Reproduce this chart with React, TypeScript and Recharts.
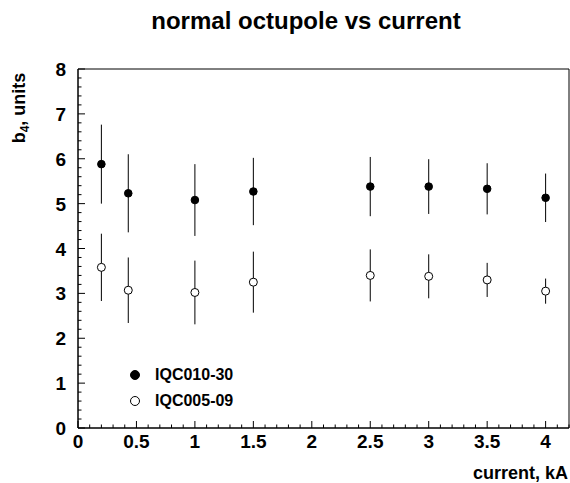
import React from 'react';
import {
  ScatterChart,
  Scatter,
  XAxis,
  YAxis,
  ErrorBar,
  ReferenceArea,
  Legend,
} from 'recharts';

const currentKA = [0.2, 0.43, 1.0, 1.5, 2.5, 3.0, 3.5, 4.0];
const iqc010Values = [5.88, 5.23, 5.08, 5.27, 5.38, 5.38, 5.33, 5.13];
const iqc010Errors = [0.88, 0.87, 0.8, 0.75, 0.66, 0.61, 0.57, 0.54];
const iqc005Values = [3.58, 3.07, 3.02, 3.25, 3.4, 3.38, 3.3, 3.05];
const iqc005Errors = [0.75, 0.73, 0.71, 0.68, 0.58, 0.49, 0.38, 0.28];

const xMajorTicks = [0, 0.5, 1, 1.5, 2, 2.5, 3, 3.5, 4];
const yMajorTicks = [0, 1, 2, 3, 4, 5, 6, 7, 8];
const xDomain = [0, 4.2];
const yDomain = [0, 8];

const xAllTicks: number[] = [];
for (let i = 0; i <= 42; i++) xAllTicks.push(Math.round(i) / 10);
const yAllTicks: number[] = [];
for (let i = 0; i <= 40; i++) yAllTicks.push(Math.round(i * 2) / 10);

const seriesA = currentKA.map((x, i) => ({ x, y: iqc010Values[i], err: iqc010Errors[i] }));
const seriesB = currentKA.map((x, i) => ({ x, y: iqc005Values[i], err: iqc005Errors[i] }));

const FONT = '"Liberation Sans", Arial, Helvetica, sans-serif';

const isMajor = (v: number, list: number[]) => list.some((m) => Math.abs(m - v) < 1e-6);

const XTick = (props: any) => {
  const { x, y, payload } = props;
  const v = payload.value;
  const major = isMajor(v, xMajorTicks);
  return (
    <g>
      <line x1={x} x2={x} y1={y} y2={y - (major ? 7 : 3.5)} stroke="#000" strokeWidth={1} />
      {major && (
        <text x={x} y={y + 20} textAnchor="middle" fontFamily={FONT} fontWeight="bold" fontSize={19} fill="#000">
          {String(v)}
        </text>
      )}
    </g>
  );
};

const YTick = (props: any) => {
  const { x, y, payload } = props;
  const v = payload.value;
  const major = isMajor(v, yMajorTicks);
  return (
    <g>
      <line x1={x} x2={x + (major ? 7 : 3.5)} y1={y} y2={y} stroke="#000" strokeWidth={1} />
      {major && (
        <text x={x - 12} y={y + 7} textAnchor="end" fontFamily={FONT} fontWeight="bold" fontSize={19} fill="#000">
          {String(v)}
        </text>
      )}
    </g>
  );
};

const FilledDot = (p: any) => <circle cx={p.cx} cy={p.cy} r={3.8} fill="#000" stroke="#000" strokeWidth={1} />;
const OpenDot = (p: any) => <circle cx={p.cx} cy={p.cy} r={4} fill="#fff" stroke="#000" strokeWidth={1} />;

const LegendContent = () => (
  <div style={{ fontFamily: FONT, fontWeight: 'bold', fontSize: 16, color: '#000', lineHeight: '26px' }}>
    <div style={{ display: 'flex', alignItems: 'center' }}>
      <svg width={30} height={26}>
        <circle cx={10} cy={13} r={4.5} fill="#000" stroke="#000" />
      </svg>
      <span>IQC010-30</span>
    </div>
    <div style={{ display: 'flex', alignItems: 'center' }}>
      <svg width={30} height={26}>
        <circle cx={10} cy={13} r={4.5} fill="#fff" stroke="#000" />
      </svg>
      <span>IQC005-09</span>
    </div>
  </div>
);

export default function App() {
  return (
    <div style={{ position: 'absolute', left: 0, top: 0, width: 570, height: 483, background: '#fff' }}>
      <div
        style={{
          position: 'absolute',
          left: 0,
          width: 612,
          top: 6,
          textAlign: 'center',
          fontFamily: FONT,
          fontWeight: 'bold',
          fontSize: 24,
          lineHeight: '30px',
          color: '#000',
        }}
      >
        normal octupole vs current
      </div>
      <ScatterChart width={570} height={483} margin={{ top: 69, right: 1, bottom: 0, left: 0 }}>
        <XAxis
          type="number"
          dataKey="x"
          domain={xDomain}
          ticks={xAllTicks}
          interval={0}
          tick={<XTick />}
          tickLine={false}
          tickSize={0}
          tickMargin={0}
          height={55}
          axisLine={{ stroke: '#000', strokeWidth: 1 }}
          allowDataOverflow
          label={{
            content: (p: any) => {
              const vb = p.viewBox;
              return (
                <text x={vb.x + vb.width - 1} y={vb.y + 51} textAnchor="end" fontFamily={FONT} fontWeight="bold" fontSize={18} fill="#000">
                  current, kA
                </text>
              );
            },
          }}
        />
        <YAxis
          type="number"
          dataKey="y"
          domain={yDomain}
          ticks={yAllTicks}
          interval={0}
          tick={<YTick />}
          tickLine={false}
          tickSize={0}
          tickMargin={0}
          width={78}
          axisLine={{ stroke: '#000', strokeWidth: 1 }}
          allowDataOverflow
          label={{
            content: () => (
              <text transform="translate(25,108) rotate(-90)" textAnchor="middle" fontFamily={FONT} fontWeight="bold" fontSize={18} fill="#000">
                b<tspan dy={4} fontSize={12}>4</tspan>
                <tspan dy={-4}>, units</tspan>
              </text>
            ),
          }}
        />
        <ReferenceArea x1={0} x2={4.2} y1={0} y2={8} fill="none" fillOpacity={0} stroke="#000" strokeWidth={1} ifOverflow="visible" />
        <Legend
          layout="horizontal"
          verticalAlign="middle"
          align="center"
          wrapperStyle={{ left: 125, top: 362, width: 140 }}
          content={<LegendContent />}
        />
        <Scatter name="IQC010-30" data={seriesA} shape={<FilledDot />} isAnimationActive={false}>
          <ErrorBar dataKey="err" direction="y" width={0} stroke="#000" strokeWidth={1} isAnimationActive={false} />
        </Scatter>
        <Scatter name="IQC005-09" data={seriesB} shape={<OpenDot />} isAnimationActive={false}>
          <ErrorBar dataKey="err" direction="y" width={0} stroke="#000" strokeWidth={1} isAnimationActive={false} />
        </Scatter>
      </ScatterChart>
    </div>
  );
}
